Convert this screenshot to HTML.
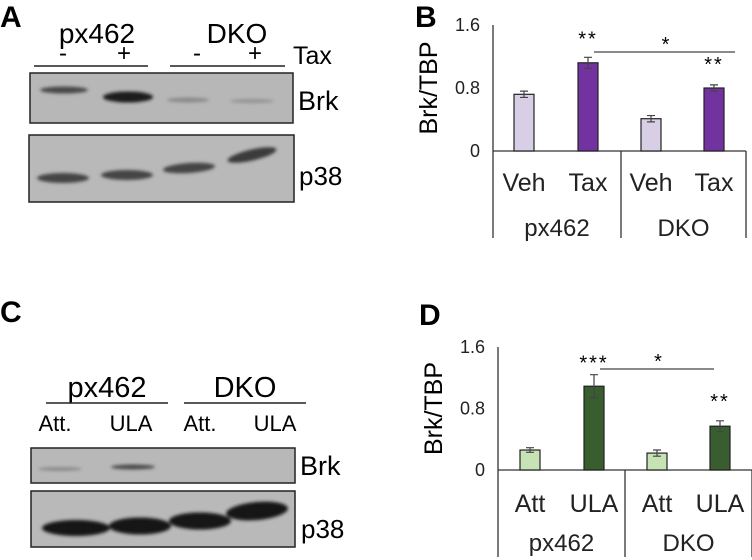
<!DOCTYPE html>
<html><head><meta charset="utf-8"><style>
body{margin:0;background:#fff;}
svg{display:block;font-family:"Liberation Sans",Arial,sans-serif;}
</style></head><body>
<svg id="fig" width="752" height="560" viewBox="0 0 752 560">
<defs>
<filter id="blur1" x="-20%" y="-50%" width="140%" height="200%"><feGaussianBlur stdDeviation="1.6"/></filter>
</defs>
<!-- Panel A -->
<g>
<text x="0" y="27" font-size="30" font-weight="bold">A</text>
<text x="97" y="43" font-size="28" text-anchor="middle">px462</text>
<text x="237" y="43" font-size="28" text-anchor="middle">DKO</text>
<text x="63" y="61" font-size="24" text-anchor="middle">-</text>
<text x="124" y="61" font-size="24" text-anchor="middle">+</text>
<text x="197" y="61" font-size="24" text-anchor="middle">-</text>
<text x="255" y="61" font-size="24" text-anchor="middle">+</text>
<text x="293" y="64" font-size="25">Tax</text>
<line x1="34" y1="66" x2="148" y2="66" stroke="#222" stroke-width="1.5"/>
<line x1="170" y1="66" x2="285" y2="66" stroke="#222" stroke-width="1.5"/>
<rect x="30" y="73" width="263" height="50" fill="#b7b7b7" stroke="#222" stroke-width="1.5"/>
<g filter="url(#blur1)">
<ellipse cx="64" cy="90" rx="24" ry="3.5" fill="#4a4a4a"/>
<ellipse cx="128" cy="97" rx="25" ry="5.5" fill="#1a1a1a"/>
<ellipse cx="188" cy="100" rx="21" ry="2.5" fill="#8a8a8a"/>
<ellipse cx="252" cy="101" rx="22" ry="2" fill="#939393"/>
</g>
<text x="298" y="110" font-size="27">Brk</text>
<rect x="29" y="135" width="265" height="67" fill="#b9b9b9" stroke="#222" stroke-width="1.5"/>
<g filter="url(#blur1)">
<ellipse cx="63" cy="178" rx="26" ry="5" fill="#444"/>
<ellipse cx="127" cy="175" rx="26" ry="5" fill="#444"/>
<ellipse cx="189" cy="168" rx="26" ry="5" fill="#444" transform="rotate(-4 189 168)"/>
<ellipse cx="252" cy="155" rx="25" ry="5.5" fill="#3a3a3a" transform="rotate(-13 252 155)"/>
</g>
<text x="299" y="185" font-size="26">p38</text>
</g>
<!-- Panel C -->
<g>
<text x="0" y="322" font-size="30" font-weight="bold">C</text>
<text x="107" y="397" font-size="29" text-anchor="middle">px462</text>
<text x="245" y="397" font-size="29" text-anchor="middle">DKO</text>
<line x1="46" y1="403" x2="168" y2="403" stroke="#222" stroke-width="1.5"/>
<line x1="184" y1="403" x2="306" y2="403" stroke="#222" stroke-width="1.5"/>
<text x="55" y="431" font-size="22" text-anchor="middle">Att.</text>
<text x="131" y="431" font-size="22" text-anchor="middle">ULA</text>
<text x="200" y="431" font-size="22" text-anchor="middle">Att.</text>
<text x="275" y="431" font-size="22" text-anchor="middle">ULA</text>
<rect x="31" y="448" width="264" height="35" fill="#b8b8b8" stroke="#222" stroke-width="1.5"/>
<g filter="url(#blur1)">
<ellipse cx="60" cy="469" rx="22" ry="2" fill="#8c8c8c"/>
<ellipse cx="133" cy="467" rx="22" ry="2.5" fill="#4a4a4a"/>
</g>
<text x="300" y="475" font-size="27">Brk</text>
<rect x="31" y="491" width="264" height="56" fill="#b9b9b9" stroke="#222" stroke-width="1.5"/>
<g filter="url(#blur1)">
<ellipse cx="76" cy="528" rx="34" ry="8" fill="#141414"/>
<ellipse cx="140" cy="526" rx="31" ry="8.5" fill="#141414"/>
<ellipse cx="200" cy="521" rx="31" ry="8.5" fill="#141414"/>
<ellipse cx="257" cy="511" rx="31" ry="9" fill="#141414" transform="rotate(-5 257 511)"/>
</g>
<text x="301" y="538" font-size="26">p38</text>
</g>
<g id="chartB">
<text x="415" y="27" font-size="30" font-weight="bold">B</text>
</g>
<g id="chartD">
<text x="419" y="325" font-size="30" font-weight="bold">D</text>
</g>
</svg>
<script>
const catsB = ["Veh","Tax","Veh","Tax"];
const groupsB = ["px462","DKO"];
const valsB = [0.72, 1.12, 0.41, 0.80];
const errsB = [0.04, 0.07, 0.04, 0.04];
const catsD = ["Att","ULA","Att","ULA"];
const groupsD = ["px462","DKO"];
const valsD = [0.26, 1.09, 0.22, 0.57];
const errsD = [0.03, 0.15, 0.04, 0.07];
const ticks = [0, 0.8, 1.6];
const tickLabels = ["0","0.8","1.6"];

const NS="http://www.w3.org/2000/svg";
function mk(parent,tag,attrs,text){const e=document.createElementNS(NS,tag);for(const k in attrs)e.setAttribute(k,attrs[k]);if(text!==undefined)e.textContent=text;parent.appendChild(e);return e;}

function drawChart(g,cfg){
  const y=v=>cfg.y0-(v/1.6)*(cfg.y0-cfg.yTop);
  const xc=i=>cfg.xs[i];
  let ax=mk(g,'line',{x1:cfg.ax,y1:cfg.yTop,x2:cfg.ax,y2:cfg.bottom,stroke:'#333','stroke-width':1.3});
  
  
  mk(g,'line',{x1:cfg.ax,y1:cfg.y0,x2:cfg.right,y2:cfg.y0,stroke:'#333','stroke-width':1.3});
  mk(g,'line',{x1:cfg.div,y1:cfg.y0,x2:cfg.div,y2:cfg.bottom,stroke:'#333','stroke-width':1.3});
  mk(g,'line',{x1:cfg.right,y1:cfg.y0,x2:cfg.right,y2:cfg.bottom,stroke:'#333','stroke-width':1.3});
  ticks.forEach((t,i)=>{
    const tl=mk(g,'text',{x:cfg.ax-13,y:y(t)+6,'font-size':18,'text-anchor':'end',fill:'#222'},tickLabels[i]);
    
    
  });
  const tt=mk(g,'text',{x:0,y:0,'font-size':25,'text-anchor':'middle',transform:`translate(${cfg.ax-56},${(cfg.y0+cfg.yTop)/2}) rotate(-90)`},'Brk/TBP');
  
  
  cfg.vals.forEach((v,i)=>{
    const w=20;
    const b=mk(g,'rect',{x:xc(i)-w/2,y:y(v),width:w,height:cfg.y0-y(v),fill:cfg.colors[i%2],stroke:'#222','stroke-width':1.2});
    
    
    const e=cfg.errs[i];
    const eb=mk(g,'path',{d:`M${xc(i)} ${y(v+e)}V${y(v-e)}M${xc(i)-4} ${y(v+e)}H${xc(i)+4}M${xc(i)-4} ${y(v-e)}H${xc(i)+4}`,stroke:'#444','stroke-width':1.2,fill:'none'});
    
    
    const cl=mk(g,'text',{x:xc(i),y:cfg.catY,'font-size':25,'text-anchor':'middle',fill:'#222'},cfg.cats[i]);
    
    
  });
  cfg.groups.forEach((gname,k)=>{
    const gx=k===0?(cfg.ax+cfg.div)/2:(cfg.div+cfg.right)/2;
    const gl=mk(g,'text',{x:gx,y:cfg.grpY,'font-size':24,'text-anchor':'middle',fill:'#222'},gname);
    
    
  });
  const sy=cfg.sigY;
  const sl=mk(g,'line',{x1:xc(1)+6,y1:sy,x2:cfg.sigEnd,y2:sy,stroke:'#444','stroke-width':1.3});
  
  
  mk(g,'text',{x:(xc(1)+cfg.sigEnd)/2+4,y:sy-1,'font-size':20,'text-anchor':'middle'},'*');
  mk(g,'text',{x:xc(1),y:y(cfg.vals[1]+cfg.errs[1])-cfg.starGap,'font-size':20,'text-anchor':'middle','letter-spacing':'2'},cfg.star1);
  mk(g,'text',{x:xc(3),y:y(cfg.vals[3]+cfg.errs[3])-cfg.starGap2,'font-size':20,'text-anchor':'middle','letter-spacing':'2'},cfg.star3);
}
drawChart(document.getElementById('chartB'),{
  ax:493,yTop:25,y0:151,bottom:238,right:746,div:621,xs:[524,588,651,714],
  vals:valsB,errs:errsB,cats:catsB,groups:groupsB,colors:['#d8cfe6','#7233a0'],
  catY:191,grpY:236,sigY:52,sigEnd:735,star1:'**',star3:'**',starGap:12,starGap2:14});
drawChart(document.getElementById('chartD'),{
  ax:498,yTop:347,y0:470,bottom:557,right:752,div:625,xs:[530,594,657,720],
  vals:valsD,errs:errsD,cats:catsD,groups:groupsD,colors:['#c7e2b4','#385d2e'],
  catY:512,grpY:551,sigY:369,sigEnd:714,star1:'***',star3:'**',starGap:5,starGap2:13});
</script>
</body></html>
